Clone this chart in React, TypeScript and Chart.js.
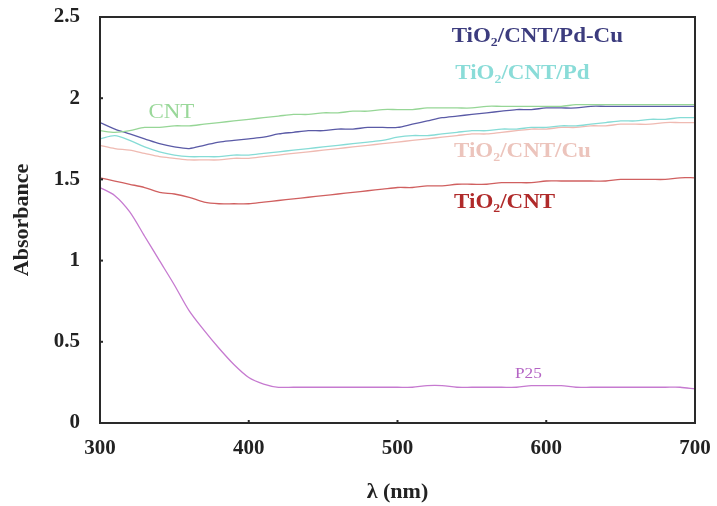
import { useEffect, useRef } from "react";
import { Chart, registerables } from "chart.js";

Chart.register(...registerables);

const wavelengths = [300, 310, 320, 330, 340, 350, 360, 370, 380, 390, 400, 410, 420, 430, 440, 450, 460, 470, 480, 490, 500, 510, 520, 530, 540, 550, 560, 570, 580, 590, 600, 610, 620, 630, 640, 650, 660, 670, 680, 690, 700];

const cnt = [1.8, 1.79, 1.8, 1.82, 1.82, 1.83, 1.83, 1.84, 1.85, 1.86, 1.87, 1.88, 1.89, 1.9, 1.9, 1.91, 1.91, 1.92, 1.92, 1.93, 1.93, 1.93, 1.94, 1.94, 1.94, 1.94, 1.95, 1.95, 1.95, 1.95, 1.95, 1.95, 1.96, 1.96, 1.96, 1.96, 1.96, 1.96, 1.96, 1.96, 1.96];
const pdCu = [1.85, 1.81, 1.78, 1.75, 1.72, 1.7, 1.69, 1.71, 1.73, 1.74, 1.75, 1.76, 1.78, 1.79, 1.8, 1.8, 1.81, 1.81, 1.82, 1.82, 1.82, 1.84, 1.86, 1.88, 1.89, 1.9, 1.91, 1.92, 1.93, 1.93, 1.94, 1.94, 1.94, 1.95, 1.95, 1.95, 1.95, 1.95, 1.95, 1.95, 1.95];
const pd = [1.75, 1.77, 1.74, 1.7, 1.67, 1.65, 1.64, 1.64, 1.64, 1.65, 1.65, 1.66, 1.67, 1.68, 1.69, 1.7, 1.71, 1.72, 1.73, 1.74, 1.76, 1.77, 1.77, 1.78, 1.79, 1.8, 1.8, 1.81, 1.81, 1.82, 1.82, 1.83, 1.83, 1.84, 1.85, 1.86, 1.86, 1.87, 1.87, 1.88, 1.88];
const cu = [1.71, 1.69, 1.68, 1.66, 1.64, 1.63, 1.62, 1.62, 1.62, 1.63, 1.63, 1.64, 1.65, 1.66, 1.67, 1.68, 1.69, 1.7, 1.71, 1.72, 1.73, 1.74, 1.75, 1.76, 1.77, 1.78, 1.78, 1.79, 1.8, 1.81, 1.81, 1.82, 1.82, 1.83, 1.83, 1.84, 1.84, 1.84, 1.85, 1.85, 1.85];
const tio2Cnt = [1.51, 1.49, 1.47, 1.45, 1.42, 1.41, 1.39, 1.36, 1.35, 1.35, 1.35, 1.36, 1.37, 1.38, 1.39, 1.4, 1.41, 1.42, 1.43, 1.44, 1.45, 1.45, 1.46, 1.46, 1.47, 1.47, 1.47, 1.48, 1.48, 1.48, 1.49, 1.49, 1.49, 1.49, 1.49, 1.5, 1.5, 1.5, 1.5, 1.51, 1.51];
const p25 = [1.45, 1.4, 1.3, 1.15, 1.0, 0.85, 0.69, 0.57, 0.46, 0.36, 0.28, 0.24, 0.22, 0.22, 0.22, 0.22, 0.22, 0.22, 0.22, 0.22, 0.22, 0.22, 0.23, 0.23, 0.22, 0.22, 0.22, 0.22, 0.22, 0.23, 0.23, 0.23, 0.22, 0.22, 0.22, 0.22, 0.22, 0.22, 0.22, 0.22, 0.21];

const seriesNames = ["CNT", "TiO₂/CNT/Pd-Cu", "TiO₂/CNT/Pd", "TiO₂/CNT/Cu", "TiO₂/CNT", "P25"];
const seriesColors = ["#96d696", "#5a5aa6", "#86dcd6", "#efbab2", "#d06060", "#c67ad0"];

const labelTexts = ["TiO₂/CNT/Pd-Cu", "TiO₂/CNT/Pd", "TiO₂/CNT/Cu", "TiO₂/CNT", "CNT", "P25"];
const labelX = [594, 584, 584, 572, 348, 588];
const labelY = [2.38, 2.15, 1.67, 1.355, 1.91, 0.3];
const labelColors = ["#3c3c7e", "#8adcd8", "#ecc4bc", "#b02a2a", "#9ad89a", "#b464c4"];
const labelBold = [true, true, true, true, false, false];
const labelSize = [20, 20, 20, 20, 20, 15];

const xTicks = [300, 400, 500, 600, 700];
const xTickLabels = ["300", "400", "500", "600", "700"];
const yTicks = [0, 0.5, 1, 1.5, 2, 2.5];
const yTickLabels = ["0", "0.5", "1", "1.5", "2", "2.5"];

const SERIF = "'Liberation Serif', 'Times New Roman', serif";

const framePlugin = {
  id: "frame",
  afterDatasetsDraw(chart: any) {
    const { ctx, chartArea, scales } = chart;
    const { left, top, right, bottom } = chartArea;
    ctx.save();
    ctx.strokeStyle = "#2a2a2a";
    ctx.lineWidth = 2;
    ctx.strokeRect(left, top, right - left, bottom - top);
    ctx.fillStyle = "#2a2a2a";
    xTicks.forEach((v) => {
      const px = scales.x.getPixelForValue(v);
      ctx.fillRect(px - 1, bottom - 3, 2, 3);
    });
    yTicks.forEach((v) => {
      const py = scales.y.getPixelForValue(v);
      ctx.fillRect(left, py - 1, 3, 2);
    });
    labelTexts.forEach((t, i) => {
      const px = scales.x.getPixelForValue(labelX[i]);
      const py = scales.y.getPixelForValue(labelY[i]);
      ctx.save();
      ctx.translate(px, py);
      ctx.scale(1.15, 1);
      ctx.font = `${labelBold[i] ? "bold " : ""}${labelSize[i]}px ${SERIF}`;
      ctx.fillStyle = labelColors[i];
      ctx.textAlign = "center";
      ctx.textBaseline = "middle";
      ctx.fillText(t, 0, 0);
      ctx.restore();
    });
    ctx.restore();
  },
};

const zeroPad = (s: any) => {
  s.paddingTop = 0;
  s.paddingBottom = 0;
  s.paddingLeft = 0;
  s.paddingRight = 0;
};

export default function App() {
  const ref = useRef<HTMLCanvasElement | null>(null);
  useEffect(() => {
    if (!ref.current) return;
    const allSeries = [cnt, pdCu, pd, cu, tio2Cnt, p25];
    const chart = new Chart(ref.current, {
      type: "line",
      data: {
        datasets: allSeries.map((s, i) => ({
          label: seriesNames[i],
          data: wavelengths.map((w, j) => ({ x: w, y: s[j] })),
          borderColor: seriesColors[i],
          borderWidth: 1.3,
          pointRadius: 0,
          tension: 0.3,
          fill: false,
        })),
      },
      options: {
        animation: false,
        responsive: true,
        maintainAspectRatio: false,
        devicePixelRatio: 1,
        layout: { padding: { top: 17, right: 22, left: 0, bottom: 0 } },
        plugins: { legend: { display: false }, tooltip: { enabled: false } },
        scales: {
          x: {
            type: "linear",
            min: 300,
            max: 700,
            afterFit: (s: any) => {
              s.height = 83;
              zeroPad(s);
            },
            afterBuildTicks: (s: any) => {
              s.ticks = xTicks.map((v) => ({ value: v }));
            },
            grid: { display: false },
            border: { display: false },
            ticks: {
              color: "#222",
              padding: 5,
              font: { family: SERIF, size: 21, weight: "bold" },
              callback: (v: any) => xTickLabels[xTicks.indexOf(Number(v))] ?? "",
            },
            title: {
              display: true,
              text: "λ (nm)",
              color: "#222",
              padding: 0,
              font: { family: SERIF, size: 22, weight: "bold" },
            },
          },
          y: {
            type: "linear",
            min: 0,
            max: 2.5,
            afterFit: (s: any) => {
              s.width = 100;
              zeroPad(s);
            },
            afterBuildTicks: (s: any) => {
              s.ticks = yTicks.map((v) => ({ value: v }));
            },
            grid: { display: false },
            border: { display: false },
            ticks: {
              color: "#222",
              padding: 12,
              font: { family: SERIF, size: 21, weight: "bold" },
              callback: (v: any) => yTickLabels[yTicks.indexOf(Number(v))] ?? "",
            },
            title: {
              display: true,
              text: "Absorbance",
              color: "#222",
              padding: 9,
              font: { family: SERIF, size: 22, weight: "bold" },
            },
          },
        },
      },
      plugins: [framePlugin],
    });
    return () => chart.destroy();
  }, []);
  return (
    <div style={{ position: "fixed", left: 0, top: 0, width: 717, height: 506, background: "#fff" }}>
      <canvas ref={ref} />
    </div>
  );
}
